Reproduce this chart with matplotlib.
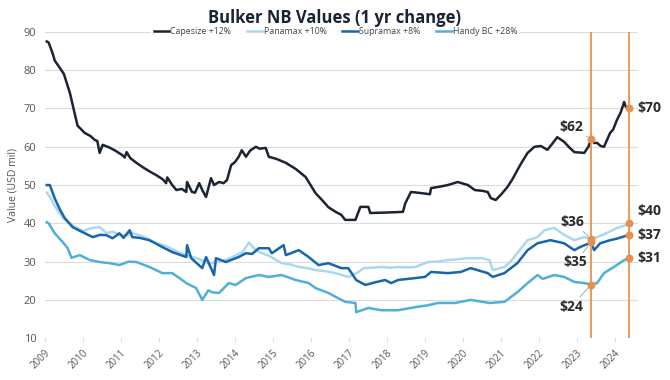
import numpy as np
import matplotlib
matplotlib.use("Agg")
import matplotlib.pyplot as plt

plt.rcParams['font.family'] = ['Open Sans', 'DejaVu Sans']

# values (decimal year, USD mil)
cape_x = [2009.05, 2009.1, 2009.2, 2009.26, 2009.4, 2009.5, 2009.58, 2009.66, 2009.73, 2009.8,
          2009.86, 2010.05, 2010.2, 2010.31, 2010.38, 2010.44, 2010.52, 2010.7, 2010.85, 2011.04,
          2011.1, 2011.15, 2011.25, 2011.41, 2011.6, 2011.8, 2011.93, 2012.1, 2012.19, 2012.22,
          2012.35, 2012.46, 2012.6, 2012.72, 2012.74, 2012.87, 2012.95, 2013.06, 2013.15, 2013.24,
          2013.37, 2013.45, 2013.58, 2013.7, 2013.79, 2013.9, 2014.0, 2014.1, 2014.18, 2014.29,
          2014.4, 2014.55, 2014.65, 2014.81, 2014.89, 2015.1, 2015.34, 2015.6, 2015.86, 2016.12,
          2016.3, 2016.46, 2016.65, 2016.8, 2016.9, 2017.17, 2017.25, 2017.3, 2017.51, 2017.56,
          2017.9, 2018.2, 2018.42, 2018.48, 2018.63, 2018.9, 2019.13, 2019.16, 2019.34, 2019.6,
          2019.86, 2020.13, 2020.31, 2020.5, 2020.65, 2020.73, 2020.86, 2021.0, 2021.17, 2021.3,
          2021.43, 2021.55, 2021.7, 2021.88, 2022.05, 2022.22, 2022.35, 2022.48, 2022.66, 2022.8,
          2022.93, 2023.19, 2023.3, 2023.37, 2023.45, 2023.53, 2023.62, 2023.71, 2023.87, 2023.95,
          2024.05, 2024.15, 2024.24, 2024.28, 2024.37]
cape_y = [87.5, 87.2, 84.5, 82.5, 80.5, 79.0, 76.5, 74.0, 71.0, 68.0,
          65.5, 63.6, 62.8, 61.8, 61.5, 58.4, 60.5, 59.8, 59.0, 57.8,
          57.2, 58.6, 57.0, 55.8, 54.5, 53.3, 52.6, 51.5, 50.5, 52.0,
          50.0, 48.7, 49.0, 48.2, 50.8, 48.2, 48.0, 50.5, 48.5, 46.9,
          51.8, 50.0, 50.8, 50.5, 51.3, 55.2, 56.0, 57.4, 59.1, 57.4,
          59.0, 60.0, 59.5, 59.7, 57.4, 56.8, 55.8, 54.2, 52.1, 47.9,
          46.0, 44.2, 43.0, 42.2, 40.9, 40.9, 43.0, 44.3, 44.3, 42.7,
          42.8, 42.9, 43.0, 45.2, 48.2, 47.9, 47.6, 49.2, 49.5, 50.0,
          50.8, 50.0, 48.7, 48.5, 48.2, 46.6, 46.1, 47.5, 49.5, 51.5,
          53.9, 56.0, 58.4, 60.0, 60.2, 59.2, 60.8, 62.5, 61.3, 59.8,
          58.6, 58.4, 60.0, 62.0, 61.0, 61.0, 60.2, 60.0, 63.6, 64.5,
          67.0, 69.0, 71.7, 70.5, 69.9]

pana_x = [2009.05, 2009.13, 2009.26, 2009.4, 2009.52, 2009.73, 2009.9, 2010.0, 2010.15, 2010.26,
          2010.44, 2010.62, 2010.8, 2010.96, 2011.15, 2011.3, 2011.6, 2011.9, 2012.2, 2012.5,
          2012.8, 2013.1, 2013.3, 2013.6, 2013.9, 2014.2, 2014.37, 2014.5, 2014.63, 2014.9,
          2015.23, 2015.45, 2015.68, 2015.9, 2016.12, 2016.4, 2016.64, 2016.98, 2017.1, 2017.25,
          2017.38, 2017.6, 2017.85, 2018.1, 2018.29, 2018.5, 2018.74, 2019.08, 2019.3, 2019.6,
          2019.85, 2020.13, 2020.5, 2020.7, 2020.78, 2021.09, 2021.25, 2021.43, 2021.7, 2021.96,
          2022.14, 2022.4, 2022.66, 2022.93, 2023.19, 2023.37, 2023.53, 2023.79, 2024.05, 2024.37]
pana_y = [48.0, 47.0, 44.5, 42.5, 41.0, 39.5, 38.5, 38.0, 38.5, 38.8,
          39.0, 37.5, 37.8, 37.0, 36.8, 37.5, 36.5, 35.0, 34.0, 32.5,
          31.5, 30.5, 29.5, 30.0, 31.0, 32.5, 35.0, 33.5, 32.5, 31.5,
          29.6, 29.3, 28.6, 28.3, 27.8, 27.5, 27.0, 26.0, 26.5, 27.3,
          28.3, 28.4, 28.6, 28.4, 28.6, 28.5, 28.6, 29.9, 30.0, 30.4,
          30.6, 30.9, 30.9, 30.4, 27.8, 28.6, 30.0, 32.2, 35.6, 36.4,
          38.2, 38.8, 37.0, 35.6, 36.4, 36.0, 36.4, 37.5, 38.8, 39.8]

supra_x = [2009.05, 2009.13, 2009.26, 2009.4, 2009.52, 2009.73, 2009.99, 2010.26, 2010.45, 2010.62,
           2010.78, 2010.96, 2011.07, 2011.23, 2011.3, 2011.5, 2011.75, 2012.09, 2012.35, 2012.72,
           2012.74, 2012.85, 2013.14, 2013.24, 2013.45, 2013.5, 2013.76, 2014.1, 2014.29, 2014.45,
           2014.63, 2014.89, 2014.97, 2015.28, 2015.34, 2015.68, 2015.94, 2016.2, 2016.46, 2016.8,
           2016.98, 2017.19, 2017.43, 2017.69, 2017.95, 2018.11, 2018.29, 2018.74, 2019.0, 2019.16,
           2019.6, 2019.94, 2020.2, 2020.65, 2020.78, 2021.09, 2021.43, 2021.7, 2021.96, 2022.3,
           2022.66, 2022.93, 2023.08, 2023.37, 2023.45, 2023.61, 2023.87, 2024.05, 2024.37]
supra_y = [50.0, 50.0, 46.5, 43.5, 41.4, 39.0, 37.7, 36.4, 37.0, 36.9,
           36.1, 37.4, 36.2, 38.2, 36.4, 36.2, 35.6, 33.8, 32.5, 31.2,
           34.3, 30.9, 28.3, 31.2, 26.5, 30.9, 29.9, 31.2, 32.2, 32.0,
           33.5, 33.5, 32.2, 34.3, 31.7, 33.0, 31.2, 29.1, 29.6, 28.3,
           28.3, 25.2, 23.9, 24.6, 25.2, 24.4, 25.2, 25.7, 26.0, 27.3,
           27.0, 27.3, 28.3, 27.0, 26.0, 27.0, 29.6, 33.0, 34.8, 35.6,
           34.8, 33.0, 33.8, 35.0, 33.0, 34.8, 35.6, 36.0, 37.0]

handy_x = [2009.05, 2009.1, 2009.26, 2009.47, 2009.6, 2009.7, 2009.92, 2010.18, 2010.44, 2010.7,
           2010.96, 2011.2, 2011.41, 2011.75, 2012.09, 2012.35, 2012.54, 2012.72, 2012.98, 2013.14,
           2013.3, 2013.4, 2013.58, 2013.84, 2014.02, 2014.29, 2014.63, 2014.89, 2015.23, 2015.6,
           2015.94, 2016.12, 2016.46, 2016.9, 2017.17, 2017.19, 2017.51, 2017.85, 2018.29, 2018.74,
           2019.08, 2019.34, 2019.79, 2020.2, 2020.7, 2021.09, 2021.43, 2021.7, 2021.96, 2022.1,
           2022.4, 2022.66, 2022.93, 2023.19, 2023.37, 2023.53, 2023.71, 2023.97, 2024.24, 2024.37]
handy_y = [40.3, 40.0, 37.4, 35.1, 33.5, 31.0, 31.7, 30.4, 29.9, 29.6,
           29.1, 30.0, 29.9, 28.6, 27.0, 27.0, 25.7, 24.4, 23.1, 20.0,
           22.5, 22.0, 21.8, 24.4, 23.9, 25.7, 26.5, 26.0, 26.5, 25.2,
           24.4, 23.1, 21.8, 19.5, 19.2, 16.8, 17.9, 17.3, 17.3, 18.1,
           18.6, 19.2, 19.2, 20.0, 19.2, 19.5, 22.0, 24.4, 26.5, 25.5,
           26.5, 26.0, 24.7, 24.4, 24.0, 24.4, 27.0, 28.6, 30.4, 31.0]

names = ['Capesize +12%', 'Panamax +10%', 'Supramax +8%', 'Handy BC +28%']
colors = ['#1b2433', '#aad9ef', '#1766ad', '#4fb0d8']

# one year ago vs now
date_then = 2023.37
date_now = 2024.37
vals_then = [62, 36, 35, 24]
vals_now = [70, 40, 37, 31]

years = list(range(2009, 2025))

fig = plt.figure(figsize=(6.7, 3.8), dpi=100)
ax = fig.add_axes([0.067, 0.11, 0.885, 0.806])

series = [(cape_x, cape_y), (pana_x, pana_y), (supra_x, supra_y), (handy_x, handy_y)]
for (xs, ys), name, c in zip(series, names, colors):
    ax.plot(xs, ys, color=c, lw=1.8, label=name, solid_joinstyle='round')

orange = '#e8914f'
for d in [date_then, date_now]:
    ax.axvline(d, color=orange, lw=1.3, zorder=4)
ax.scatter([date_then] * 4, vals_then, s=22, color=orange, zorder=5)
ax.scatter([date_now] * 4, vals_now, s=22, color=orange, zorder=5)

lbl = dict(fontsize=10, fontweight='bold', color='#2a2a2a', textcoords='offset pixels', zorder=6)
lead = dict(arrowstyle='-', color='#999999', lw=0.6, shrinkA=0, shrinkB=3)
offs_then = [(-8, 12), (-7, 17), (-4, -20), (-8, -22)]
for v, o in zip(vals_then, offs_then):
    ax.annotate('$%d' % v, (date_then, v), xytext=o, ha='right', va='center', arrowprops=lead, **lbl)
offs_now = [(8, 0), (8, 12), (8, 0), (8, 0)]
for v, o in zip(vals_now, offs_now):
    ax.annotate('$%d' % v, (date_now, v), xytext=o, ha='left', va='center', **lbl)

ax.set_xlim(2009, 2024.6)
ax.set_ylim(10, 90)
ax.set_yticks(range(10, 91, 10))
ax.set_xticks(years)
ax.set_xticklabels([str(y) for y in years], rotation=45, ha='right', rotation_mode='anchor')
ax.tick_params(axis='x', length=3, color='#dddddd', labelsize=7, labelcolor='#555555', pad=4)
ax.tick_params(axis='y', length=0, labelsize=8, labelcolor='#555555', pad=6)
ax.grid(axis='y', color='#dcdcdc', lw=0.8)
ax.set_axisbelow(True)
for s in ax.spines.values():
    s.set_visible(False)
ax.set_ylabel('Value (USD mil)', fontsize=7.5, color='#555555', labelpad=4)

leg = ax.legend(loc='upper center', bbox_to_anchor=(0.49, 1.04), ncol=4, fontsize=6.3,
                frameon=True, handlelength=1.8, handletextpad=0.1, columnspacing=1.8,
                borderpad=0.3)
leg.get_frame().set_facecolor('white')
leg.get_frame().set_edgecolor('none')
leg.get_frame().set_alpha(1)
for t in leg.get_texts():
    t.set_color('#444444')

fig.text(0.5, 0.953, 'Bulker NB Values (1 yr change)', ha='center', va='center',
         fontsize=12, fontweight='bold', color='#1b2433')

fig.savefig('out.png', dpi=100)
